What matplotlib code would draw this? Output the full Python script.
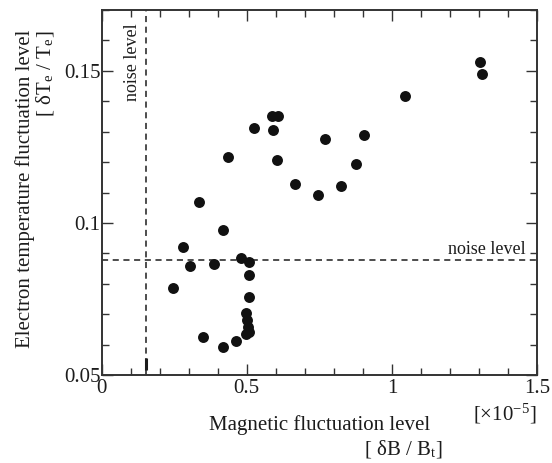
import numpy as np
import matplotlib
matplotlib.use('Agg')
import matplotlib.pyplot as plt
from matplotlib.ticker import MultipleLocator

plt.rcParams['font.family'] = ['Liberation Serif', 'DejaVu Serif']
plt.rcParams['mathtext.fontset'] = 'stix'

# magnetic fluctuation level [x1e-5] and electron temperature fluctuation level
db_b = [1.302, 1.312, 1.046, 0.905, 0.768, 0.877, 0.825, 0.747,
        0.437, 0.525, 0.588, 0.607, 0.592, 0.604, 0.667,
        0.336, 0.419, 0.281, 0.480, 0.509, 0.304, 0.388, 0.509,
        0.506, 0.497, 0.500, 0.503, 0.506, 0.498, 0.348, 0.419, 0.462,
        0.245]
dte_te = [0.1530, 0.1490, 0.1418, 0.1290, 0.1276, 0.1194, 0.1122, 0.1092,
          0.1218, 0.1311, 0.1350, 0.1350, 0.1306, 0.1207, 0.1129,
          0.1070, 0.0977, 0.0922, 0.0886, 0.0873, 0.0860, 0.0864, 0.0829,
          0.0758, 0.0703, 0.0681, 0.0659, 0.0642, 0.0634, 0.0624, 0.0591, 0.0612,
          0.0785]

noise_b = 0.153
noise_te = 0.0878

fig = plt.figure(figsize=(5.52, 4.63), dpi=100)
ax = fig.add_axes([0.1842, 0.19, 0.7886, 0.7884])

ink = '#1c1c1c'
ax.scatter(db_b, dte_te, s=62, color='#111111', zorder=3, linewidths=0)

ax.axvline(noise_b, color=ink, ls=(0, (4, 3)), lw=1.1)
ax.axhline(noise_te, color=ink, ls=(0, (4, 3)), lw=1.1)
ax.plot([noise_b, noise_b], [0.0516, 0.0555], color=ink, lw=2.2, solid_capstyle='butt')

ax.set_xlim(0, 1.5)
ax.set_ylim(0.05, 0.17)
ax.set_xticks([0, 0.5, 1, 1.5])
ax.set_xticklabels(['0', '0.5', '1', '1.5'])
ax.set_yticks([0.05, 0.1, 0.15])
ax.set_yticklabels(['0.05', '0.1', '0.15'])
ax.xaxis.set_minor_locator(MultipleLocator(0.1))
ax.yaxis.set_minor_locator(MultipleLocator(0.01))
ax.tick_params(which='both', direction='in', top=True, right=True,
               color='#333333', width=1.0, labelsize=15, labelcolor=ink)
ax.tick_params(which='major', length=8)
ax.tick_params(which='minor', length=5)
ax.tick_params(axis='x', pad=3)
ax.tick_params(axis='y', pad=1)
for s in ax.spines.values():
    s.set_color('#333333')
    s.set_linewidth(1.4)

ax.text(0.105, 0.1655, 'noise level', rotation=90, ha='center', va='top',
        fontsize=13, color=ink)
ax.text(1.46, 0.0885, 'noise level', ha='right', va='bottom',
        fontsize=13, color=ink)

fig.text(25 / 552, 1 - 189 / 463, 'Electron temperature fluctuation level',
         rotation=90, ha='center', va='center', fontsize=15, color=ink)
fig.text(45 / 552, 1 - 30 / 463, r'[ δT$_\mathregular{e}$ / T$_\mathregular{e}$]',
         rotation=90, ha='center', va='top', fontsize=15, color=ink)
fig.text(320 / 552, 1 - 425 / 463, 'Magnetic fluctuation level',
         ha='center', va='center', fontsize=15, color=ink)
fig.text(443 / 552, 1 - 449 / 463, r'[ δB / B$_\mathregular{t}$]',
         ha='right', va='center', fontsize=15, color=ink)
fig.text(537 / 552, 1 - 414 / 463, r'[×10$^\mathregular{-5}$]',
         ha='right', va='center', fontsize=15, color=ink)

fig.savefig('out.png', dpi=100)
